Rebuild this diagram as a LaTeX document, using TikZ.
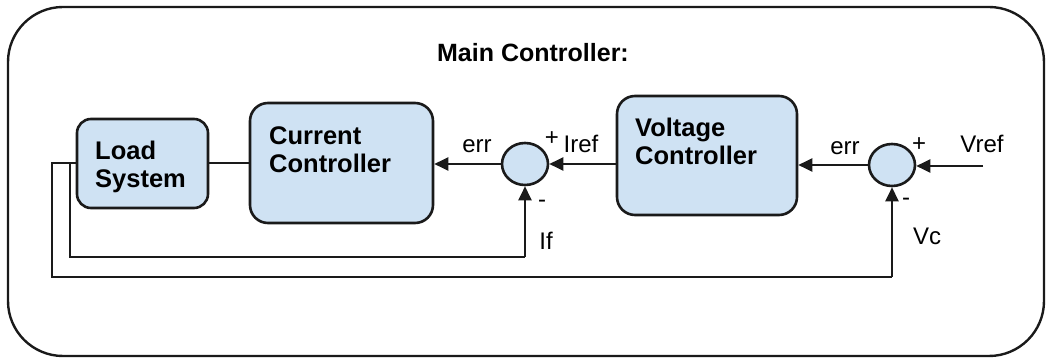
\documentclass[tikz,border=0pt]{standalone}
\usepackage{fontspec}
\setmainfont{Liberation Sans}
\usetikzlibrary{arrows.meta,shapes.geometric}
\definecolor{boxfill}{HTML}{CFE2F3}
\definecolor{ink}{HTML}{1A1A1A}
\begin{document}
\begin{tikzpicture}[x=1pt,y=-1pt,
  blk/.style={draw=ink,line width=2.6pt,fill=boxfill,inner sep=0pt},
  sumnode/.style={draw=ink,line width=2.6pt,fill=boxfill,ellipse,minimum width=46pt,minimum height=42pt,inner sep=0pt},
  wire/.style={draw=ink,line width=2.4pt},
  arr/.style={wire,-{Triangle[length=14pt,width=13pt]}},
  lbl/.style={font=\fontsize{24}{28}\selectfont,anchor=base,inner sep=0pt},
  blbl/.style={font=\fontsize{25.5}{28}\selectfont\bfseries,anchor=base west,inner sep=0pt,align=left}
]
\useasboundingbox (0,0) rectangle (1047,358);
\node[draw=ink,line width=2.4pt,rounded corners=55pt,minimum width=1036pt,minimum height=349pt,inner sep=0pt] (frame) at (526,181.5) {};
\node[font=\fontsize{25}{28}\selectfont\bfseries,anchor=base,inner sep=0pt] (title) at (533,62) {Main Controller:};

\node[blk,rounded corners=14pt,minimum width=131pt,minimum height=89pt] (load) at (142.5,163.5) {};
\node[blk,rounded corners=18pt,minimum width=183pt,minimum height=120pt] (cur) at (341.5,163) {};
\node[blk,rounded corners=18pt,minimum width=180pt,minimum height=119pt] (volt) at (707,155.5) {};
\node[sumnode] (s1) at (525,164) {};
\node[sumnode] (s2) at (892,165) {};

\node[blbl] (loadt) at (95,160) {Load};
\node[blbl] (loadt2) at (95,188) {System};
\node[blbl] (curt) at (269,145) {Current};
\node[blbl] (curt2) at (269,173) {Controller};
\node[blbl] (voltt) at (635,137) {Voltage};
\node[blbl] (voltt2) at (635,165) {Controller};

\coordinate (vin) at (983,166);
\coordinate (lw) at (77,163);
\coordinate (o1) at (52,163);
\coordinate (o2) at (52,277);
\coordinate (i1) at (70,163);
\coordinate (i2) at (70,257);

\draw[wire] (load.east |- lw) -- (cur.west |- lw);
\draw[arr] (s1.west) -- (cur.east |- s1.west);
\draw[arr] (volt.west |- s1.east) -- (s1.east);
\draw[arr] (s2.west) -- (volt.east |- s2.west);
\draw[arr] (vin) -- (s2.east |- vin);
\draw[wire] (lw) -- (o1) -- (o2) -- (o2 -| s2.south);
\draw[arr] (o2 -| s2.south) -- (s2.south);
\draw[wire] (i1) -- (i2) -- (i2 -| s1.south);
\draw[arr] (i2 -| s1.south) -- (s1.south);

\node[lbl] (err1) at (477,153) {err};
\node[lbl] (iref) at (581,153) {Iref};
\node[lbl] (p1) at (552,146) {+};
\node[lbl] (m1) at (542,208) {-};
\node[lbl] (if) at (546,250) {If};
\node[lbl] (err2) at (845,155) {err};
\node[lbl] (vref) at (982,153) {Vref};
\node[lbl] (p2) at (919,152) {+};
\node[lbl] (m2) at (906,206) {-};
\node[lbl] (vc) at (927,244) {Vc};
\end{tikzpicture}
\end{document}
